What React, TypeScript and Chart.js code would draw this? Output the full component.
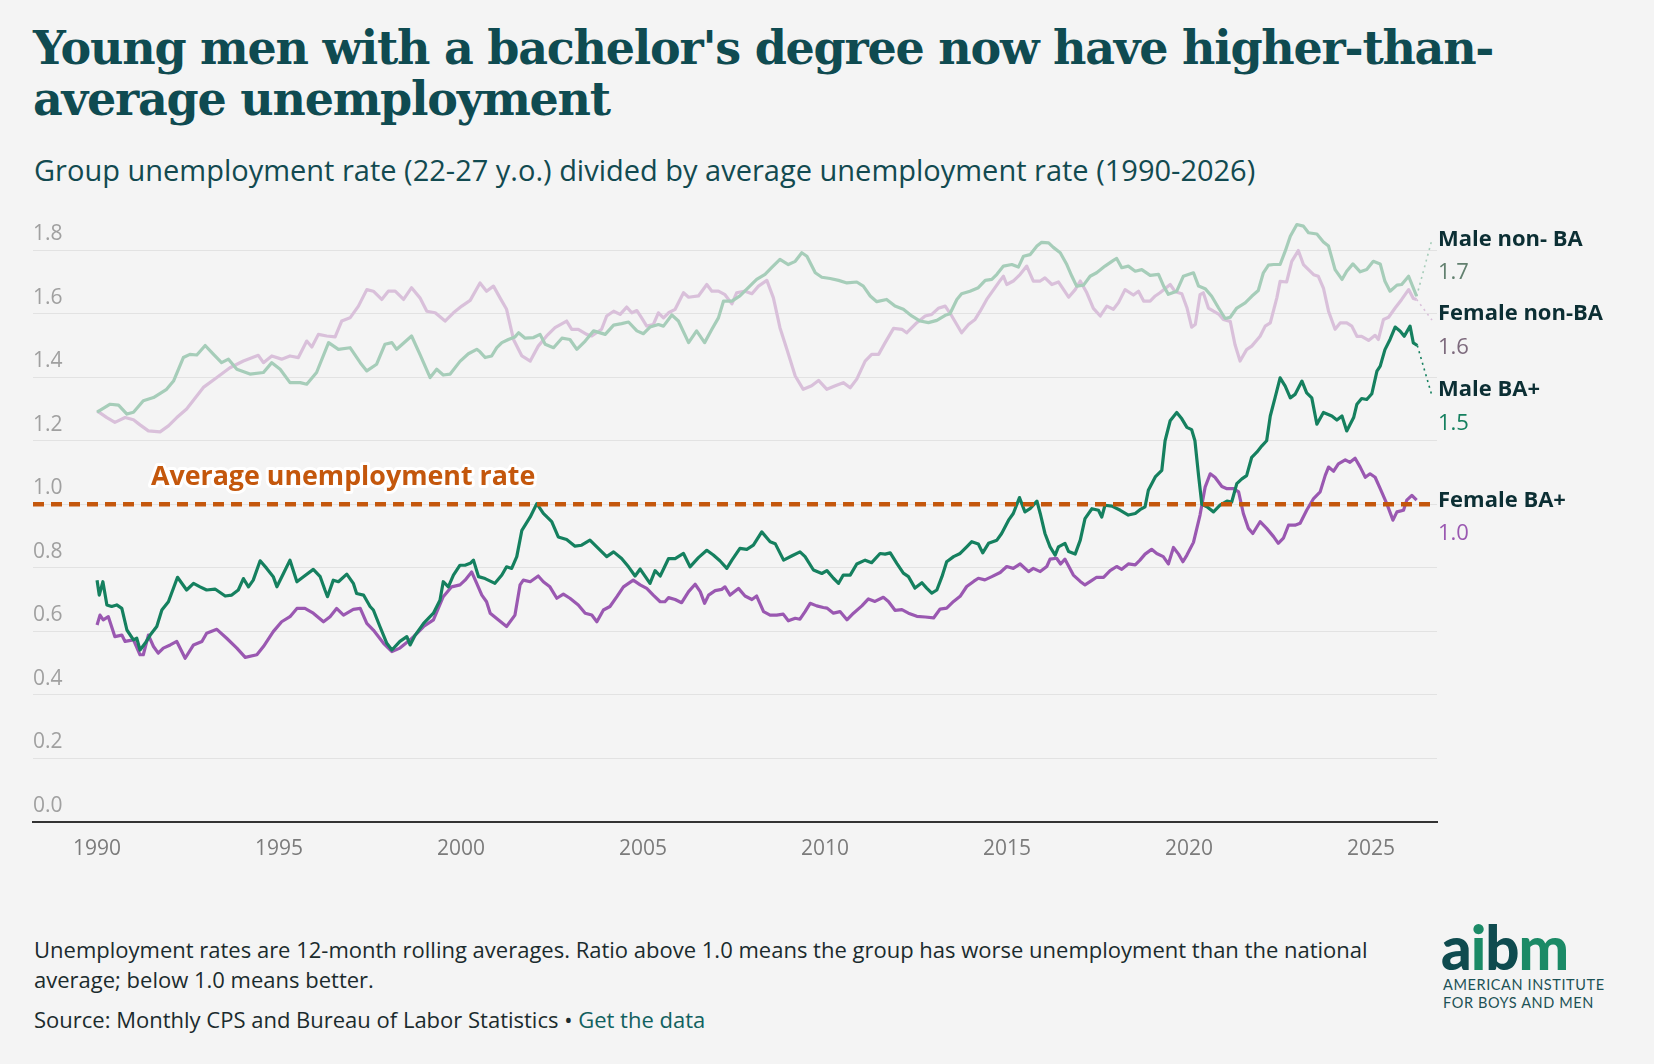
import React, { useEffect, useRef } from "react";
import { Chart, registerables } from "chart.js";

Chart.register(...registerables);

// ---------- DATA (year, ratio) ----------
const maleNonBA: [number, number][] = [
  [1990.00,1.29],[1990.36,1.315],[1990.59,1.312],[1990.82,1.284],[1991.00,1.29],[1991.27,1.326],[1991.55,1.336],[1991.91,1.362],[1992.10,1.388],[1992.37,1.462],[1992.55,1.472],[1992.74,1.47],[1992.97,1.50],[1993.20,1.472],[1993.42,1.446],[1993.61,1.457],[1993.84,1.425],[1994.20,1.41],[1994.57,1.415],[1994.80,1.446],[1995.03,1.425],[1995.30,1.383],[1995.58,1.383],[1995.76,1.378],[1996.03,1.415],[1996.36,1.509],[1996.63,1.488],[1996.95,1.493],[1997.23,1.446],[1997.41,1.42],[1997.68,1.441],[1997.91,1.504],[1998.10,1.509],[1998.23,1.488],[1998.64,1.53],[1998.87,1.472],[1999.15,1.399],[1999.33,1.425],[1999.51,1.407],[1999.70,1.41],[1999.97,1.45],
  [2000.20,1.474],[2000.43,1.488],[2000.52,1.48],[2000.66,1.462],[2000.84,1.467],[2000.98,1.493],[2001.12,1.509],[2001.30,1.519],[2001.48,1.527],[2001.58,1.54],[2001.76,1.523],[2001.99,1.525],[2002.17,1.535],[2002.31,1.504],[2002.54,1.493],[2002.77,1.523],[2002.99,1.519],[2003.18,1.488],[2003.41,1.514],[2003.64,1.546],[2003.96,1.535],[2004.19,1.564],[2004.41,1.569],[2004.60,1.574],[2004.83,1.546],[2005.01,1.537],[2005.19,1.558],[2005.42,1.566],[2005.56,1.561],[2005.79,1.596],[2005.97,1.577],[2006.25,1.509],[2006.47,1.546],[2006.69,1.509],[2006.89,1.551],[2007.07,1.587],[2007.21,1.64],[2007.44,1.64],[2007.66,1.656],[2007.89,1.682],[2008.12,1.708],[2008.35,1.724],[2008.53,1.745],[2008.76,1.771],[2008.99,1.755],[2009.18,1.765],[2009.36,1.792],[2009.50,1.781],[2009.73,1.729],[2009.91,1.715],
  [2010.14,1.711],[2010.37,1.705],[2010.60,1.697],[2010.87,1.70],[2011.05,1.687],[2011.24,1.656],[2011.42,1.638],[2011.69,1.645],[2011.92,1.624],[2012.15,1.614],[2012.38,1.593],[2012.61,1.577],[2012.84,1.572],[2013.07,1.579],[2013.30,1.595],[2013.43,1.60],[2013.62,1.645],[2013.75,1.663],[2013.98,1.671],[2014.21,1.682],[2014.40,1.705],[2014.58,1.708],[2014.72,1.724],[2014.90,1.75],[2015.13,1.755],[2015.31,1.747],[2015.45,1.781],[2015.63,1.786],[2015.82,1.813],[2015.95,1.825],[2016.14,1.823],[2016.27,1.809],[2016.46,1.792],[2016.64,1.755],[2016.78,1.718],[2016.91,1.687],[2017.10,1.69],[2017.28,1.718],[2017.46,1.729],[2017.69,1.75],[2017.92,1.768],[2018.01,1.774],[2018.15,1.745],[2018.33,1.75],[2018.52,1.734],[2018.70,1.739],[2018.93,1.721],[2019.16,1.724],[2019.30,1.687],[2019.43,1.661],[2019.66,1.671],[2019.84,1.718],
  [2020.12,1.729],[2020.26,1.687],[2020.44,1.679],[2020.62,1.655],[2020.81,1.618],[2020.99,1.585],[2021.13,1.589],[2021.31,1.618],[2021.54,1.634],[2021.72,1.655],[2021.90,1.673],[2022.04,1.729],[2022.18,1.753],[2022.32,1.755],[2022.50,1.755],[2022.64,1.797],[2022.78,1.844],[2022.96,1.881],[2023.14,1.876],[2023.28,1.855],[2023.51,1.851],[2023.69,1.826],[2023.83,1.813],[2024.01,1.739],[2024.20,1.708],[2024.33,1.734],[2024.50,1.757],[2024.70,1.732],[2024.88,1.739],[2025.06,1.765],[2025.25,1.757],[2025.38,1.702],[2025.52,1.671],[2025.71,1.69],[2025.84,1.692],[2026.03,1.718],[2026.16,1.681],[2026.25,1.655],
];

const femaleNonBA: [number, number][] = [
  [1990.00,1.294],[1990.27,1.273],[1990.49,1.258],[1990.77,1.273],[1991.00,1.266],[1991.18,1.25],[1991.41,1.231],[1991.73,1.228],[1991.96,1.247],[1992.19,1.273],[1992.46,1.30],[1992.92,1.368],[1993.29,1.399],[1993.65,1.43],[1994.02,1.451],[1994.43,1.469],[1994.57,1.446],[1994.80,1.467],[1995.07,1.457],[1995.30,1.467],[1995.53,1.462],[1995.76,1.514],[1995.90,1.495],[1996.08,1.535],[1996.31,1.53],[1996.54,1.527],[1996.72,1.577],[1996.95,1.587],[1997.18,1.624],[1997.41,1.676],[1997.59,1.671],[1997.82,1.645],[1998.00,1.671],[1998.19,1.671],[1998.42,1.645],[1998.64,1.682],[1998.87,1.65],[1999.06,1.608],[1999.29,1.603],[1999.56,1.577],[1999.79,1.603],
  [2000.02,1.624],[2000.25,1.642],[2000.52,1.697],[2000.70,1.671],[2000.89,1.687],[2001.07,1.65],[2001.25,1.614],[2001.44,1.519],[2001.67,1.467],[2001.90,1.451],[2002.12,1.498],[2002.35,1.53],[2002.58,1.556],[2002.90,1.577],[2003.04,1.551],[2003.22,1.551],[2003.45,1.535],[2003.59,1.53],[2003.86,1.551],[2004.00,1.593],[2004.19,1.608],[2004.37,1.598],[2004.55,1.621],[2004.69,1.603],[2004.83,1.61],[2004.96,1.587],[2005.10,1.561],[2005.28,1.566],[2005.42,1.603],[2005.56,1.587],[2005.70,1.603],[2005.88,1.614],[2006.11,1.666],[2006.25,1.652],[2006.52,1.656],[2006.75,1.692],[2006.89,1.671],[2007.07,1.671],[2007.25,1.66],[2007.44,1.631],[2007.57,1.666],[2007.80,1.671],[2007.99,1.663],[2008.17,1.687],[2008.40,1.705],[2008.58,1.65],[2008.76,1.556],[2008.95,1.488],[2009.18,1.404],[2009.40,1.362],[2009.63,1.373],[2009.82,1.39],
  [2010.05,1.362],[2010.28,1.373],[2010.50,1.383],[2010.69,1.367],[2010.87,1.394],[2011.10,1.451],[2011.28,1.472],[2011.47,1.472],[2011.65,1.509],[2011.88,1.554],[2012.11,1.551],[2012.24,1.54],[2012.52,1.572],[2012.75,1.593],[2012.93,1.598],[2013.11,1.617],[2013.30,1.624],[2013.48,1.593],[2013.75,1.54],[2013.94,1.566],[2014.12,1.582],[2014.26,1.608],[2014.44,1.645],[2014.63,1.676],[2014.81,1.705],[2014.90,1.718],[2014.99,1.692],[2015.17,1.703],[2015.36,1.724],[2015.54,1.75],[2015.72,1.703],[2015.91,1.703],[2016.04,1.713],[2016.23,1.692],[2016.41,1.70],[2016.69,1.652],[2016.87,1.676],[2017.01,1.703],[2017.19,1.666],[2017.37,1.617],[2017.56,1.593],[2017.74,1.624],[2017.92,1.614],[2018.06,1.635],[2018.24,1.676],[2018.47,1.659],[2018.61,1.671],[2018.75,1.64],[2018.93,1.64],[2019.07,1.656],[2019.20,1.666],[2019.48,1.692],[2019.62,1.669],[2019.80,1.663],[2019.94,1.619],
  [2020.07,1.558],[2020.17,1.566],[2020.30,1.66],[2020.39,1.666],[2020.53,1.618],[2020.67,1.608],[2020.81,1.599],[2020.94,1.582],[2021.13,1.576],[2021.26,1.503],[2021.40,1.451],[2021.58,1.487],[2021.72,1.498],[2021.95,1.529],[2022.09,1.561],[2022.23,1.571],[2022.41,1.65],[2022.50,1.702],[2022.68,1.70],[2022.82,1.765],[2023.00,1.799],[2023.14,1.755],[2023.28,1.739],[2023.42,1.723],[2023.55,1.718],[2023.69,1.681],[2023.83,1.608],[2024.01,1.551],[2024.15,1.571],[2024.33,1.571],[2024.47,1.561],[2024.61,1.529],[2024.74,1.529],[2024.93,1.516],[2025.11,1.532],[2025.20,1.519],[2025.34,1.582],[2025.48,1.589],[2025.66,1.618],[2025.84,1.645],[2026.03,1.676],[2026.16,1.648],[2026.25,1.645],
];

const maleBA: [number, number][] = [
  [1990.00,0.761],[1990.06,0.714],[1990.16,0.756],[1990.27,0.683],[1990.40,0.678],[1990.54,0.683],[1990.68,0.672],[1990.82,0.604],[1991.00,0.573],[1991.09,0.578],[1991.18,0.541],[1991.32,0.562],[1991.46,0.588],[1991.64,0.615],[1991.78,0.667],[1991.96,0.693],[1992.21,0.77],[1992.46,0.73],[1992.65,0.751],[1992.83,0.74],[1993.01,0.73],[1993.24,0.733],[1993.52,0.711],[1993.70,0.714],[1993.88,0.73],[1994.02,0.766],[1994.16,0.74],[1994.29,0.761],[1994.48,0.822],[1994.66,0.798],[1994.84,0.772],[1994.94,0.74],[1995.12,0.782],[1995.30,0.824],[1995.49,0.756],[1995.67,0.772],[1995.94,0.795],[1996.13,0.772],[1996.26,0.73],[1996.33,0.709],[1996.49,0.761],[1996.63,0.756],[1996.86,0.78],[1997.04,0.751],[1997.13,0.719],[1997.32,0.714],[1997.50,0.678],[1997.59,0.667],[1997.77,0.615],[1997.96,0.562],[1998.10,0.541],[1998.32,0.568],[1998.51,0.583],[1998.60,0.557],[1998.74,0.588],[1998.97,0.625],[1999.24,0.657],[1999.42,0.698],[1999.51,0.756],[1999.65,0.74],[1999.79,0.777],[1999.97,0.808],
  [2000.11,0.808],[2000.25,0.814],[2000.34,0.824],[2000.48,0.772],[2000.66,0.766],[2000.93,0.751],[2001.12,0.777],[2001.25,0.803],[2001.39,0.798],[2001.53,0.835],[2001.67,0.918],[2001.90,0.96],[2002.08,1.002],[2002.26,0.971],[2002.49,0.945],[2002.67,0.897],[2002.90,0.889],[2003.13,0.868],[2003.31,0.871],[2003.54,0.887],[2003.77,0.861],[2004.00,0.835],[2004.19,0.85],[2004.41,0.829],[2004.60,0.803],[2004.78,0.774],[2004.92,0.796],[2005.19,0.751],[2005.33,0.791],[2005.47,0.774],[2005.70,0.829],[2005.88,0.829],[2006.11,0.845],[2006.29,0.803],[2006.52,0.832],[2006.75,0.855],[2006.93,0.84],[2007.11,0.822],[2007.30,0.798],[2007.44,0.824],[2007.66,0.861],[2007.85,0.858],[2008.03,0.871],[2008.26,0.913],[2008.49,0.882],[2008.63,0.876],[2008.86,0.824],[2009.08,0.837],[2009.31,0.85],[2009.45,0.835],[2009.68,0.793],[2009.91,0.782],
  [2010.05,0.791],[2010.23,0.767],[2010.37,0.751],[2010.50,0.777],[2010.69,0.777],[2010.87,0.812],[2011.10,0.824],[2011.28,0.816],[2011.51,0.845],[2011.65,0.843],[2011.79,0.847],[2011.97,0.814],[2012.15,0.783],[2012.29,0.772],[2012.47,0.736],[2012.66,0.753],[2012.79,0.736],[2012.93,0.72],[2013.07,0.73],[2013.21,0.772],[2013.34,0.819],[2013.53,0.835],[2013.71,0.845],[2013.89,0.866],[2014.03,0.882],[2014.21,0.875],[2014.33,0.847],[2014.49,0.877],[2014.72,0.887],[2014.85,0.908],[2015.04,0.95],[2015.17,0.971],[2015.34,1.021],[2015.49,0.976],[2015.63,0.986],[2015.82,1.01],[2015.91,0.971],[2016.04,0.908],[2016.18,0.866],[2016.32,0.84],[2016.41,0.866],[2016.59,0.877],[2016.69,0.851],[2016.87,0.843],[2017.01,0.887],[2017.14,0.955],[2017.33,0.986],[2017.51,0.981],[2017.60,0.96],[2017.69,0.997],[2017.88,0.994],[2018.11,0.981],[2018.33,0.966],[2018.52,0.971],[2018.65,0.983],[2018.79,0.992],[2018.88,1.044],[2019.07,1.086],[2019.25,1.107],[2019.34,1.20],[2019.48,1.263],[2019.66,1.289],[2019.80,1.269],[2019.94,1.242],
  [2020.07,1.235],[2020.16,1.20],[2020.26,1.09],[2020.35,1.0],[2020.49,0.992],[2020.67,0.976],[2020.85,0.997],[2021.04,1.01],[2021.17,1.007],[2021.31,1.065],[2021.45,1.08],[2021.58,1.09],[2021.72,1.148],[2021.86,1.164],[2022.00,1.184],[2022.13,1.20],[2022.23,1.278],[2022.36,1.335],[2022.50,1.398],[2022.64,1.372],[2022.78,1.335],[2022.91,1.346],[2023.10,1.388],[2023.23,1.351],[2023.37,1.335],[2023.51,1.252],[2023.69,1.289],[2023.92,1.278],[2024.06,1.265],[2024.20,1.278],[2024.33,1.231],[2024.52,1.273],[2024.61,1.315],[2024.74,1.333],[2024.88,1.33],[2025.02,1.348],[2025.16,1.419],[2025.25,1.435],[2025.38,1.487],[2025.52,1.519],[2025.66,1.558],[2025.80,1.545],[2025.91,1.529],[2026.07,1.561],[2026.16,1.508],[2026.27,1.50],
];

const femaleBA: [number, number][] = [
  [1990.00,0.62],[1990.08,0.651],[1990.17,0.636],[1990.31,0.646],[1990.49,0.583],[1990.68,0.588],[1990.77,0.568],[1991.00,0.573],[1991.18,0.526],[1991.27,0.526],[1991.41,0.588],[1991.55,0.552],[1991.68,0.531],[1991.82,0.547],[1992.01,0.557],[1992.19,0.568],[1992.42,0.515],[1992.65,0.557],[1992.88,0.568],[1993.01,0.594],[1993.29,0.606],[1993.56,0.578],[1993.84,0.547],[1994.07,0.518],[1994.39,0.526],[1994.57,0.552],[1994.84,0.599],[1995.07,0.63],[1995.30,0.646],[1995.49,0.672],[1995.71,0.672],[1995.94,0.657],[1996.22,0.63],[1996.40,0.646],[1996.58,0.672],[1996.77,0.651],[1997.04,0.669],[1997.23,0.672],[1997.41,0.625],[1997.59,0.604],[1997.87,0.562],[1998.10,0.536],[1998.32,0.547],[1998.60,0.573],[1998.74,0.588],[1998.97,0.615],[1999.24,0.636],[1999.51,0.709],[1999.74,0.74],[1999.97,0.746],
  [2000.11,0.761],[2000.29,0.787],[2000.43,0.751],[2000.57,0.714],[2000.70,0.693],[2000.80,0.657],[2001.02,0.636],[2001.25,0.615],[2001.48,0.651],[2001.62,0.746],[2001.71,0.761],[2001.90,0.756],[2002.12,0.774],[2002.26,0.756],[2002.44,0.74],[2002.63,0.704],[2002.81,0.717],[2002.99,0.704],[2003.22,0.683],[2003.41,0.657],[2003.59,0.651],[2003.73,0.63],[2003.91,0.667],[2004.09,0.678],[2004.28,0.709],[2004.46,0.74],[2004.73,0.761],[2004.92,0.746],[2005.10,0.735],[2005.28,0.714],[2005.47,0.693],[2005.60,0.693],[2005.70,0.706],[2005.88,0.70],[2006.06,0.69],[2006.25,0.725],[2006.43,0.748],[2006.57,0.725],[2006.69,0.688],[2006.80,0.714],[2006.98,0.728],[2007.16,0.732],[2007.25,0.74],[2007.39,0.714],[2007.62,0.735],[2007.80,0.711],[2007.99,0.70],[2008.12,0.711],[2008.31,0.662],[2008.49,0.651],[2008.67,0.651],[2008.85,0.654],[2008.99,0.633],[2009.18,0.641],[2009.31,0.638],[2009.45,0.662],[2009.59,0.688],[2009.77,0.68],[2009.95,0.675],
  [2010.05,0.673],[2010.23,0.657],[2010.41,0.662],[2010.60,0.636],[2010.78,0.657],[2011.01,0.68],[2011.19,0.702],[2011.37,0.694],[2011.60,0.707],[2011.74,0.694],[2011.92,0.666],[2012.11,0.668],[2012.29,0.657],[2012.52,0.647],[2012.75,0.645],[2012.98,0.642],[2013.16,0.67],[2013.34,0.673],[2013.53,0.694],[2013.71,0.71],[2013.89,0.741],[2014.08,0.757],[2014.21,0.767],[2014.39,0.762],[2014.58,0.772],[2014.81,0.785],[2014.99,0.804],[2015.17,0.798],[2015.36,0.812],[2015.59,0.788],[2015.72,0.798],[2015.91,0.788],[2016.09,0.804],[2016.18,0.827],[2016.36,0.83],[2016.47,0.812],[2016.59,0.827],[2016.82,0.777],[2017.01,0.757],[2017.14,0.746],[2017.33,0.76],[2017.46,0.77],[2017.65,0.77],[2017.83,0.791],[2018.01,0.804],[2018.15,0.795],[2018.33,0.812],[2018.52,0.809],[2018.65,0.824],[2018.79,0.843],[2018.97,0.858],[2019.11,0.845],[2019.29,0.835],[2019.43,0.812],[2019.57,0.864],[2019.71,0.843],[2019.83,0.819],[2019.94,0.84],
  [2020.12,0.88],[2020.30,0.966],[2020.44,1.054],[2020.58,1.096],[2020.71,1.085],[2020.90,1.056],[2021.04,1.049],[2021.22,1.049],[2021.36,1.039],[2021.49,0.971],[2021.63,0.924],[2021.75,0.908],[2021.95,0.945],[2022.13,0.924],[2022.32,0.898],[2022.45,0.877],[2022.59,0.893],[2022.73,0.934],[2022.91,0.934],[2023.05,0.94],[2023.23,0.981],[2023.42,1.018],[2023.60,1.039],[2023.74,1.091],[2023.83,1.117],[2023.97,1.104],[2024.10,1.127],[2024.29,1.14],[2024.42,1.132],[2024.56,1.145],[2024.70,1.117],[2024.84,1.085],[2024.97,1.096],[2025.11,1.085],[2025.25,1.049],[2025.43,1.002],[2025.60,0.95],[2025.71,0.976],[2025.89,0.981],[2025.98,1.013],[2026.12,1.028],[2026.25,1.013],
];

const seriesNames = ["Male non- BA", "Female non-BA", "Male BA+", "Female BA+"];
const seriesLatest = ["1.7", "1.6", "1.5", "1.0"];
const xTicks = [1990, 1995, 2000, 2005, 2010, 2015, 2020, 2025];
const yTicks = [0, 0.2, 0.4, 0.6, 0.8, 1.0, 1.2, 1.4, 1.6, 1.8];
const averageRatio = 1.0;
const averageText = "Average unemployment rate";

// ---------- STYLE / LAYOUT ----------
const BG = "#f4f4f4";
const TEAL = "#0f4b51";
const ORANGE = "#c4570c";
const SANS = '"Open Sans", "Noto Sans", sans-serif';
const lineColors = ["#a6cdb9", "#d9c0da", "#15805f", "#9a58b1"];
const valueColors = ["#62806f", "#7d6a7d", "#15805f", "#9a58b1"];
const labelAnchors = [1.834, 1.599, 1.36, 1.012]; // vertical anchor (in ratio units) of right labels
const valueGap = 0.105;
const hasConnector = [true, true, true, false];
const avgLabelAt: [number, number] = [1991.48, 1.084];

const overlayPlugin = {
  id: "overlay",
  afterDatasetsDraw(chart: any) {
    const { ctx, chartArea, scales } = chart;
    const x = scales.x;
    const y = scales.y;
    ctx.save();
    const yy = y.getPixelForValue(averageRatio);
    ctx.strokeStyle = ORANGE;
    ctx.lineWidth = 4.5;
    ctx.setLineDash([11, 7]);
    ctx.beginPath();
    ctx.moveTo(chartArea.left, yy);
    ctx.lineTo(chartArea.right, yy);
    ctx.stroke();
    ctx.setLineDash([]);
    ctx.font = `700 26.8px ${SANS}`;
    ctx.textAlign = "left";
    ctx.textBaseline = "middle";
    const ax = x.getPixelForValue(avgLabelAt[0]);
    const ay = y.getPixelForValue(avgLabelAt[1]);
    ctx.lineJoin = "round";
    ctx.lineWidth = 6;
    ctx.strokeStyle = "#ffffff";
    ctx.strokeText(averageText, ax, ay);
    ctx.fillStyle = ORANGE;
    ctx.fillText(averageText, ax, ay);

    chart.data.datasets.forEach((ds: any, i: number) => {
      const meta = chart.getDatasetMeta(i);
      const last = meta.data[meta.data.length - 1];
      const ly = y.getPixelForValue(labelAnchors[i]);
      if (hasConnector[i] && last) {
        ctx.strokeStyle = lineColors[i];
        ctx.lineWidth = 1.6;
        ctx.setLineDash([2, 4]);
        ctx.beginPath();
        ctx.moveTo(last.x, last.y);
        ctx.lineTo(chartArea.right - 5, ly + (i === 0 ? 0 : 6));
        ctx.stroke();
        ctx.setLineDash([]);
      }
      const lx = chartArea.right + 1;
      ctx.textAlign = "left";
      ctx.textBaseline = "middle";
      ctx.font = `700 22px ${SANS}`;
      ctx.fillStyle = "#0c2f34";
      ctx.fillText(seriesNames[i], lx, ly);
      ctx.font = `400 22px ${SANS}`;
      ctx.fillStyle = valueColors[i];
      ctx.fillText(seriesLatest[i], lx, y.getPixelForValue(labelAnchors[i] - valueGap));
    });
    ctx.restore();
  },
};

function toPoints(arr: [number, number][]) {
  return arr.map(([x, y]) => ({ x, y }));
}

function LineChart() {
  const ref = useRef<HTMLCanvasElement | null>(null);
  useEffect(() => {
    if (!ref.current) return;
    const all = [maleNonBA, femaleNonBA, maleBA, femaleBA];
    const chart = new Chart(ref.current, {
      type: "line",
      data: {
        datasets: all.map((arr, i) => ({
          label: seriesNames[i],
          data: toPoints(arr),
          borderColor: lineColors[i],
          borderWidth: 3.2,
          pointRadius: 0,
          tension: 0,
          fill: false,
          borderJoinStyle: "round" as const,
        })),
      },
      options: {
        responsive: false,
        animation: false,
        devicePixelRatio: 1,
        layout: { padding: { left: 33, right: 217, top: 11, bottom: 13 } },
        plugins: { legend: { display: false }, tooltip: { enabled: false } },
        scales: {
          x: {
            type: "linear",
            min: 1988.24,
            max: 2026.81,
            afterBuildTicks: (s: any) => {
              s.ticks = xTicks.map((v) => ({ value: v }));
            },
            grid: { display: false, drawTicks: false },
            border: { display: true, color: "#333333", width: 2 },
            ticks: {
              padding: 15,
              color: "#7b7b7b",
              font: { family: SANS, size: 21 },
              callback: (v: any) => String(v),
            },
          },
          y: {
            type: "linear",
            min: 0,
            max: 1.95,
            afterBuildTicks: (s: any) => {
              s.ticks = yTicks.map((v) => ({ value: v }));
            },
            grid: { color: "#e2e2e2", lineWidth: 1, drawTicks: false },
            border: { display: false },
            ticks: {
              mirror: true,
              padding: 0,
              labelOffset: -16,
              color: "#a0a0a0",
              font: { family: SANS, size: 21 },
              callback: (v: any) => Number(v).toFixed(1),
            },
          },
        },
      },
      plugins: [overlayPlugin],
    });
    return () => chart.destroy();
  }, []);
  return (
    <canvas
      ref={ref}
      width={1654}
      height={700}
      style={{ position: "absolute", left: 0, top: 190, width: 1654, height: 700 }}
    />
  );
}

export default function App() {
  return (
    <div
      style={{
        position: "fixed",
        left: 0,
        top: 0,
        width: 1654,
        height: 1064,
        overflow: "hidden",
        background: BG,
        fontFamily: SANS,
      }}
    >
      <div
        style={{
          position: "absolute",
          left: 33,
          top: 23,
          fontFamily: '"DejaVu Serif", serif',
          fontWeight: 700,
          fontSize: 46,
          lineHeight: "51px",
          letterSpacing: -1.25,
          color: TEAL,
          whiteSpace: "nowrap",
        }}
      >
        Young men with a bachelor's degree now have higher-than-
        <br />
        average unemployment
      </div>
      <div
        style={{
          position: "absolute",
          left: 34,
          top: 150,
          fontSize: 29,
          lineHeight: "40px",
          color: "#124a50",
          whiteSpace: "nowrap",
        }}
      >
        Group unemployment rate (22-27 y.o.) divided by average unemployment rate (1990-2026)
      </div>
      <LineChart />
      <div
        style={{
          position: "absolute",
          left: 34,
          top: 934,
          fontSize: 22,
          lineHeight: "30px",
          color: "#1b2b2d",
          whiteSpace: "nowrap",
        }}
      >
        Unemployment rates are 12-month rolling averages. Ratio above 1.0 means the group has worse unemployment than the national
        <br />
        average; below 1.0 means better.
      </div>
      <div
        style={{
          position: "absolute",
          left: 34,
          top: 1004,
          fontSize: 22,
          lineHeight: "30px",
          color: "#1b2b2d",
          whiteSpace: "nowrap",
        }}
      >
        Source: Monthly CPS and Bureau of Labor Statistics • <span style={{ color: "#11615f" }}>Get the data</span>
      </div>
      <div
        style={{
          position: "absolute",
          left: 1441,
          top: 917,
          fontFamily: "Lato, sans-serif",
          fontWeight: 900,
          fontSize: 60,
          lineHeight: "60px",
          letterSpacing: -1,
          whiteSpace: "nowrap",
        }}
      >
        <span style={{ color: "#0f4b4f" }}>a</span>
        <span style={{ color: "#1b8a66" }}>i</span>
        <span style={{ color: "#0f4b4f" }}>b</span>
        <span style={{ color: "#1b8a66" }}>m</span>
      </div>
      <div
        style={{
          position: "absolute",
          left: 1443,
          top: 976,
          fontFamily: "Lato, sans-serif",
          fontSize: 14.5,
          lineHeight: "18px",
          letterSpacing: 0.6,
          color: "#1d5256",
          whiteSpace: "nowrap",
        }}
      >
        AMERICAN INSTITUTE
        <br />
        FOR BOYS AND MEN
      </div>
    </div>
  );
}
